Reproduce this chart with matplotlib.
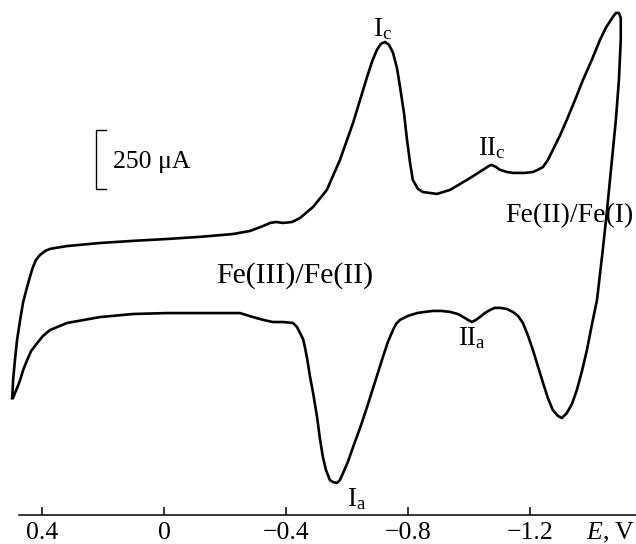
import matplotlib
matplotlib.use("Agg")
import matplotlib.pyplot as plt

plt.rcParams['font.family'] = ['Liberation Serif', 'DejaVu Serif']
plt.rcParams['mathtext.fontset'] = 'custom'
plt.rcParams['mathtext.rm'] = 'Liberation Serif'
plt.rcParams['mathtext.it'] = 'Liberation Serif:italic'

# forward (cathodic) scan, potential in V, current in uA
e_fwd = [0.498, 0.495, 0.489, 0.482, 0.472, 0.462, 0.449, 0.439, 0.430, 0.420,
         0.407, 0.390, 0.374, 0.318, 0.210, 0.102, -0.010, -0.118, -0.226, -0.282,
         -0.325, -0.348, -0.367, -0.390, -0.420, -0.446, -0.489, -0.534, -0.577, -0.620,
         -0.666, -0.682, -0.698, -0.711, -0.725, -0.738, -0.751, -0.764, -0.774, -0.787,
         -0.797, -0.807, -0.816, -0.833, -0.849, -0.895, -0.938, -0.993, -1.046, -1.066,
         -1.075, -1.089, -1.102, -1.125, -1.144, -1.184, -1.210, -1.226, -1.243, -1.259,
         -1.275, -1.298, -1.321, -1.348, -1.374, -1.403, -1.430, -1.449, -1.472, -1.482,
         -1.492, -1.498, -1.498]
i_fwd = [-513, -437, -352, -267, -182, -106, -42, 4, 42, 72,
         93, 110, 119, 131, 144, 153, 161, 170, 182, 195,
         216, 229, 233, 229, 233, 250, 297, 369, 496, 653,
         848, 912, 962, 988, 996, 984, 950, 886, 806, 695,
         581, 483, 411, 373, 360, 352, 369, 411, 454, 471,
         475, 466, 454, 445, 441, 441, 445, 454, 466, 496,
         538, 598, 666, 750, 835, 920, 1005, 1056, 1102, 1119,
         1119, 1098, 1005]

# reverse (anodic) scan
e_rev = [-1.492, -1.482, -1.469, -1.452, -1.439, -1.420, -1.403, -1.387, -1.370, -1.354,
         -1.338, -1.321, -1.305, -1.292, -1.275, -1.259, -1.243, -1.226, -1.210, -1.193,
         -1.177, -1.161, -1.144, -1.125, -1.102, -1.085, -1.069, -1.052, -1.036, -1.023,
         -1.010, -0.997, -0.987, -0.964, -0.938, -0.911, -0.882, -0.856, -0.830, -0.800,
         -0.774, -0.761, -0.751, -0.734, -0.718, -0.692, -0.666, -0.643, -0.620, -0.603,
         -0.587, -0.577, -0.567, -0.554, -0.544, -0.531, -0.521, -0.511, -0.502, -0.489,
         -0.479, -0.469, -0.462, -0.456, -0.446, -0.436, -0.423, -0.390, -0.357, -0.325,
         -0.292, -0.249, -0.174, -0.118, -0.010, 0.102, 0.210, 0.318, 0.374, 0.397,
         0.416, 0.436, 0.449, 0.462, 0.472, 0.482, 0.489, 0.495, 0.498]
i_rev = [835, 666, 496, 271, 114, -98, -204, -310, -403, -479,
         -538, -577, -598, -589, -564, -513, -449, -377, -310, -246,
         -195, -165, -148, -136, -131, -131, -140, -153, -170, -182,
         -191, -182, -174, -157, -148, -144, -144, -148, -153, -165,
         -182, -199, -225, -276, -339, -445, -551, -640, -721, -784,
         -831, -861, -873, -869, -861, -818, -763, -683, -594, -492,
         -424, -343, -297, -263, -237, -212, -195, -191, -191, -182,
         -170, -153, -153, -153, -153, -157, -170, -195, -225, -250,
         -280, -314, -352, -394, -437, -471, -492, -513, -513]

ticks = [0.4, 0, -0.4, -0.8, -1.2]
tick_labels = ['0.4', '0', '\u22120.4', '\u22120.8', '\u22121.2']

fig = plt.figure(figsize=(6.36, 5.44), dpi=100)
ax = fig.add_axes([0, 29 / 544, 1, 515 / 544])

ax.plot(e_fwd + e_rev, i_fwd + i_rev, color='black', lw=1.9, solid_joinstyle='round')

ax.set_xlim(0.538, -1.548)
ax.set_ylim(-1009, 1174)
for s in ['top', 'left', 'right']:
    ax.spines[s].set_visible(False)
ax.spines['bottom'].set_bounds(0.475, -1.548)
ax.spines['bottom'].set_linewidth(1.1)
ax.set_yticks([])
ax.set_xticks(ticks)
ax.set_xticklabels(tick_labels)
ax.tick_params(axis='x', direction='in', length=6, width=1.1, pad=5, labelsize=18.5)
ax.patch.set_visible(False)

# scale bar 250 uA
bar_e = [0.190, 0.223, 0.223, 0.190]
bar_i = [373 + 250, 373 + 250, 373, 373]
ax.plot(bar_e, bar_i, color='black', lw=1.0)
ax.text(0.167, 488, '250 \u03bcA', fontsize=18.5, ha='left', va='center')

fs = 19.5
ax.text(-0.717, 1050, r'I$_\mathrm{c}$', fontsize=fs, ha='center', va='center')
ax.text(-1.075, 545, r'II$_\mathrm{c}$', fontsize=fs, ha='center', va='center')
ax.text(-1.33, 260, 'Fe(II)/Fe(I)', fontsize=20, ha='center', va='center')
ax.text(-0.43, 5, 'Fe(III)/Fe(II)', fontsize=21.5, ha='center', va='center')
ax.text(-1.010, -260, r'II$_\mathrm{a}$', fontsize=fs, ha='center', va='center')
ax.text(-0.632, -940, r'I$_\mathrm{a}$', fontsize=fs, ha='center', va='center')

fig.text(586 / 636, 1 - 533 / 544, r'$E$, V', fontsize=18.5, ha='left', va='center')

fig.savefig('out.png', dpi=100)
